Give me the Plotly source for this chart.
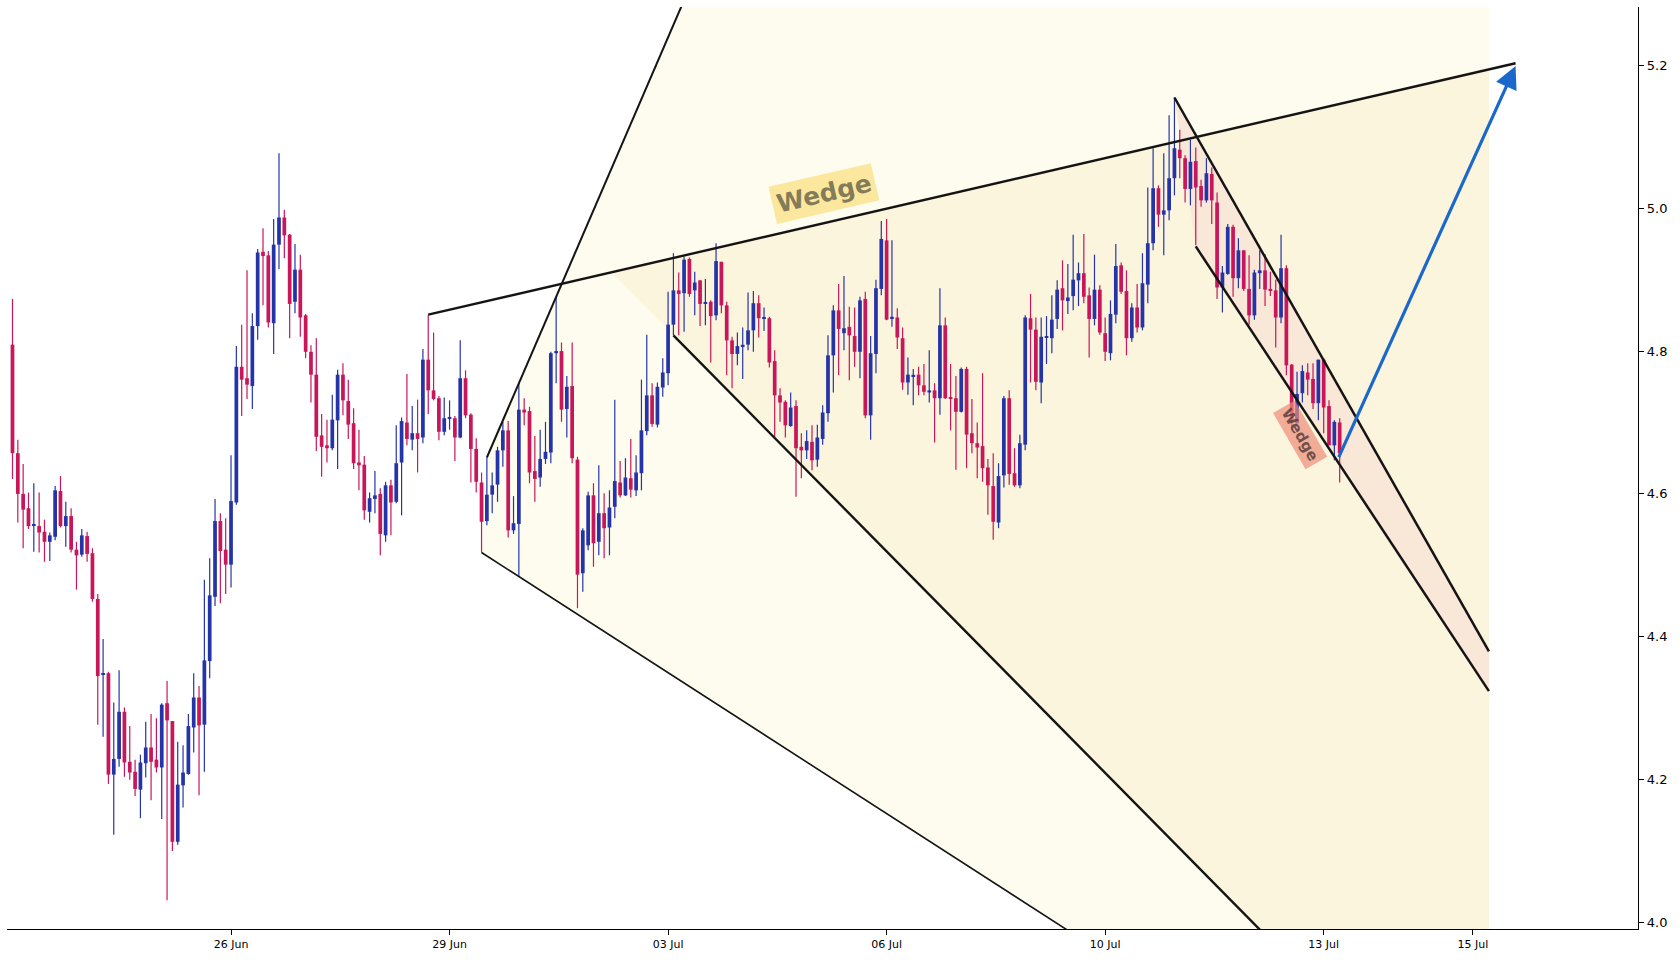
import plotly.graph_objects as go

# ---------------- data ----------------
opens = [4.809, 4.657, 4.600, 4.580, 4.556, 4.555, 4.547, 4.533, 4.540, 4.604,
         4.555, 4.569, 4.522, 4.515, 4.541, 4.517, 4.453, 4.347, 4.349, 4.207,
         4.229, 4.295, 4.225, 4.211, 4.186, 4.223, 4.245, 4.228, 4.217, 4.307,
         4.282, 4.113, 4.192, 4.208, 4.273, 4.315, 4.277, 4.366, 4.456, 4.562,
         4.522, 4.501, 4.588, 4.778, 4.762, 4.751, 4.835, 4.939, 4.934, 4.839,
         4.949, 4.987, 4.963, 4.869, 4.914, 4.850, 4.799, 4.767, 4.682, 4.668,
         4.664, 4.703, 4.767, 4.730, 4.699, 4.644, 4.641, 4.575, 4.593, 4.600,
         4.542, 4.612, 4.589, 4.644, 4.700, 4.676, 4.685, 4.679, 4.788, 4.745,
         4.734, 4.687, 4.706, 4.706, 4.679, 4.762, 4.711, 4.663, 4.616, 4.562,
         4.599, 4.613, 4.661, 4.689, 4.549, 4.558, 4.718, 4.716, 4.632, 4.623,
         4.649, 4.658, 4.797, 4.800, 4.719, 4.751, 4.648, 4.489, 4.528, 4.598,
         4.533, 4.573, 4.553, 4.582, 4.616, 4.598, 4.622, 4.605, 4.629, 4.688,
         4.738, 4.697, 4.749, 4.769, 4.837, 4.885, 4.881, 4.929, 4.885, 4.899,
         4.867, 4.869, 4.850, 4.925, 4.864, 4.815, 4.796, 4.807, 4.809, 4.829,
         4.867, 4.846, 4.846, 4.786, 4.738, 4.729, 4.695, 4.723, 4.666, 4.661,
         4.673, 4.648, 4.677, 4.713, 4.794, 4.857, 4.825, 4.834, 4.821, 4.799,
         4.873, 4.710, 4.796, 4.887, 4.955, 4.845, 4.847, 4.818, 4.756, 4.765,
         4.767, 4.752, 4.742, 4.745, 4.734, 4.836, 4.735, 4.734, 4.715, 4.775,
         4.685, 4.671, 4.667, 4.637, 4.611, 4.560, 4.626, 4.734, 4.629, 4.612,
         4.669, 4.846, 4.830, 4.756, 4.819, 4.818, 4.845, 4.888, 4.870, 4.877,
         4.899, 4.909, 4.878, 4.845, 4.886, 4.825, 4.797, 4.851, 4.920, 4.884,
         4.818, 4.861, 4.833, 4.893, 4.951, 5.028, 4.991, 4.997, 5.042, 5.082,
         5.070, 5.027, 5.066, 5.031, 5.011, 5.048, 5.008, 4.889, 4.908, 4.974,
         4.902, 4.941, 4.887, 4.850, 4.909, 4.913, 4.887, 4.885, 4.847, 4.916,
         4.781, 4.699, 4.741, 4.770, 4.761, 4.727, 4.788, 4.723, 4.668, 4.700]
highs = [4.873, 4.676, 4.642, 4.602, 4.615, 4.602, 4.564, 4.546, 4.611, 4.625,
         4.589, 4.580, 4.533, 4.551, 4.547, 4.524, 4.460, 4.397, 4.351, 4.308,
         4.353, 4.301, 4.275, 4.228, 4.235, 4.281, 4.292, 4.286, 4.307, 4.338,
         4.282, 4.253, 4.248, 4.292, 4.349, 4.331, 4.480, 4.510, 4.593, 4.573,
         4.566, 4.654, 4.807, 4.837, 4.913, 4.853, 4.943, 4.972, 4.940, 4.985,
         5.077, 4.998, 4.964, 4.950, 4.935, 4.852, 4.808, 4.818, 4.712, 4.704,
         4.739, 4.774, 4.783, 4.760, 4.720, 4.690, 4.653, 4.602, 4.632, 4.608,
         4.617, 4.620, 4.696, 4.707, 4.768, 4.723, 4.732, 4.803, 4.851, 4.826,
         4.737, 4.735, 4.731, 4.709, 4.815, 4.773, 4.713, 4.678, 4.630, 4.651,
         4.630, 4.666, 4.701, 4.702, 4.597, 4.755, 4.734, 4.722, 4.681, 4.690,
         4.701, 4.799, 4.876, 4.812, 4.765, 4.812, 4.652, 4.552, 4.603, 4.615,
         4.640, 4.601, 4.605, 4.732, 4.646, 4.650, 4.677, 4.654, 4.760, 4.823,
         4.755, 4.756, 4.790, 4.883, 4.937, 4.910, 4.932, 4.931, 4.911, 4.899,
         4.901, 4.871, 4.951, 4.925, 4.869, 4.820, 4.826, 4.833, 4.882, 4.884,
         4.878, 4.861, 4.848, 4.801, 4.748, 4.731, 4.742, 4.731, 4.685, 4.689,
         4.696, 4.697, 4.724, 4.822, 4.864, 4.894, 4.905, 4.862, 4.861, 4.876,
         4.883, 4.821, 4.900, 4.982, 4.985, 4.955, 4.860, 4.833, 4.791, 4.775,
         4.778, 4.782, 4.801, 4.755, 4.888, 4.847, 4.782, 4.765, 4.777, 4.778,
         4.733, 4.700, 4.769, 4.649, 4.657, 4.643, 4.737, 4.745, 4.664, 4.683,
         4.850, 4.880, 4.847, 4.847, 4.849, 4.878, 4.899, 4.927, 4.922, 4.963,
         4.924, 4.964, 4.889, 4.935, 4.892, 4.847, 4.871, 4.950, 4.924, 4.913,
         4.867, 4.894, 4.937, 5.029, 5.084, 5.032, 5.077, 5.130, 5.155, 5.110,
         5.074, 5.096, 5.085, 5.040, 5.070, 5.057, 5.022, 4.919, 4.978, 4.977,
         4.958, 4.941, 4.934, 4.914, 4.941, 4.936, 4.911, 4.900, 4.963, 4.920,
         4.782, 4.771, 4.780, 4.783, 4.783, 4.788, 4.790, 4.731, 4.703, 4.706]
lows = [4.621, 4.560, 4.524, 4.551, 4.519, 4.518, 4.505, 4.506, 4.535, 4.553,
        4.526, 4.518, 4.466, 4.512, 4.505, 4.449, 4.277, 4.260, 4.194, 4.123,
        4.218, 4.204, 4.200, 4.177, 4.146, 4.203, 4.171, 4.210, 4.145, 4.031,
        4.100, 4.109, 4.161, 4.207, 4.238, 4.178, 4.211, 4.342, 4.443, 4.447,
        4.460, 4.469, 4.585, 4.709, 4.733, 4.719, 4.816, 4.864, 4.833, 4.796,
        4.915, 4.930, 4.818, 4.853, 4.820, 4.790, 4.728, 4.660, 4.624, 4.644,
        4.661, 4.635, 4.710, 4.677, 4.635, 4.605, 4.564, 4.560, 4.573, 4.514,
        4.533, 4.542, 4.587, 4.570, 4.668, 4.661, 4.630, 4.671, 4.712, 4.731,
        4.675, 4.682, 4.690, 4.646, 4.678, 4.706, 4.616, 4.602, 4.518, 4.556,
        4.573, 4.589, 4.638, 4.539, 4.544, 4.484, 4.696, 4.615, 4.589, 4.610,
        4.642, 4.643, 4.755, 4.701, 4.679, 4.643, 4.440, 4.463, 4.521, 4.498,
        4.514, 4.510, 4.514, 4.566, 4.595, 4.597, 4.595, 4.597, 4.605, 4.682,
        4.694, 4.693, 4.736, 4.752, 4.822, 4.822, 4.827, 4.876, 4.850, 4.835,
        4.836, 4.784, 4.843, 4.853, 4.766, 4.748, 4.780, 4.761, 4.801, 4.799,
        4.819, 4.828, 4.777, 4.680, 4.701, 4.679, 4.694, 4.596, 4.622, 4.649,
        4.633, 4.638, 4.669, 4.701, 4.742, 4.766, 4.801, 4.759, 4.778, 4.762,
        4.706, 4.676, 4.769, 4.878, 4.843, 4.834, 4.803, 4.746, 4.739, 4.724,
        4.738, 4.738, 4.728, 4.672, 4.711, 4.733, 4.689, 4.634, 4.714, 4.636,
        4.657, 4.622, 4.617, 4.571, 4.536, 4.552, 4.609, 4.613, 4.610, 4.608,
        4.661, 4.756, 4.745, 4.727, 4.782, 4.797, 4.831, 4.829, 4.852, 4.857,
        4.863, 4.867, 4.791, 4.836, 4.823, 4.786, 4.787, 4.839, 4.880, 4.794,
        4.813, 4.826, 4.829, 4.867, 4.941, 4.974, 4.934, 4.983, 5.018, 5.042,
        5.008, 5.004, 4.948, 5.002, 5.008, 4.978, 4.873, 4.854, 4.907, 4.876,
        4.888, 4.884, 4.837, 4.844, 4.887, 4.863, 4.877, 4.805, 4.839, 4.766,
        4.690, 4.695, 4.728, 4.738, 4.719, 4.703, 4.685, 4.668, 4.647, 4.616]
closes = [4.657, 4.600, 4.578, 4.555, 4.557, 4.546, 4.533, 4.542, 4.605, 4.555,
          4.569, 4.522, 4.514, 4.542, 4.516, 4.453, 4.345, 4.348, 4.207, 4.229,
          4.295, 4.224, 4.210, 4.187, 4.224, 4.245, 4.225, 4.217, 4.305, 4.283,
          4.113, 4.193, 4.210, 4.275, 4.315, 4.276, 4.367, 4.458, 4.562, 4.520,
          4.501, 4.590, 4.778, 4.760, 4.753, 4.835, 4.938, 4.933, 4.840, 4.949,
          4.987, 4.962, 4.866, 4.914, 4.847, 4.799, 4.767, 4.680, 4.666, 4.664,
          4.704, 4.767, 4.731, 4.697, 4.643, 4.640, 4.577, 4.594, 4.598, 4.544,
          4.612, 4.588, 4.643, 4.702, 4.677, 4.685, 4.677, 4.788, 4.745, 4.733,
          4.687, 4.706, 4.707, 4.679, 4.762, 4.710, 4.663, 4.617, 4.561, 4.599,
          4.612, 4.661, 4.689, 4.549, 4.559, 4.718, 4.714, 4.630, 4.621, 4.649,
          4.659, 4.797, 4.800, 4.718, 4.750, 4.650, 4.487, 4.549, 4.598, 4.531,
          4.573, 4.552, 4.581, 4.618, 4.598, 4.623, 4.606, 4.630, 4.689, 4.738,
          4.698, 4.750, 4.770, 4.837, 4.885, 4.880, 4.928, 4.880, 4.896, 4.866,
          4.868, 4.849, 4.926, 4.864, 4.815, 4.796, 4.807, 4.808, 4.829, 4.867,
          4.846, 4.847, 4.784, 4.738, 4.728, 4.696, 4.721, 4.664, 4.661, 4.674,
          4.647, 4.679, 4.714, 4.794, 4.857, 4.831, 4.832, 4.822, 4.799, 4.871,
          4.710, 4.797, 4.888, 4.957, 4.844, 4.848, 4.819, 4.756, 4.767, 4.766,
          4.752, 4.743, 4.745, 4.734, 4.836, 4.734, 4.733, 4.715, 4.775, 4.683,
          4.671, 4.665, 4.636, 4.612, 4.561, 4.625, 4.734, 4.628, 4.612, 4.671,
          4.847, 4.830, 4.757, 4.820, 4.821, 4.844, 4.886, 4.871, 4.875, 4.900,
          4.909, 4.876, 4.845, 4.886, 4.826, 4.799, 4.852, 4.919, 4.883, 4.818,
          4.861, 4.833, 4.895, 4.951, 5.028, 4.991, 4.997, 5.042, 5.084, 5.070,
          5.027, 5.065, 5.029, 5.011, 5.049, 5.011, 4.889, 4.910, 4.974, 4.902,
          4.941, 4.887, 4.850, 4.910, 4.913, 4.886, 4.885, 4.847, 4.916, 4.780,
          4.700, 4.740, 4.772, 4.760, 4.727, 4.788, 4.721, 4.668, 4.701, 4.657]

tick_idx = [41, 82, 123, 164, 205, 246, 274]
tick_text = ["26 Jun", "29 Jun", "03 Jul", "06 Jul", "10 Jul", "13 Jul", "15 Jul"]
price_ticks = [4.0, 4.2, 4.4, 4.6, 4.8, 5.0, 5.2]

# pattern anchors: (bar index, price)
big_upper = [(78, 4.851), (282, 5.203)]
big_left = [(89, 4.651), (145, 5.620)]
big_lower = [(88, 4.518), (277, 3.609)]
big_middle = [(124, 4.822), (277, 3.665)]
small_upper = [(218, 5.155), (277, 4.3795)]
small_lower = [(222, 4.9465), (277, 4.324)]
zone_end = 277
arrow_from = (248.7, 4.6495)
arrow_to = (282, 5.199)
big_label_pos = (152.3, 5.020)
small_label_pos = (241.6, 4.6825)

# ---------------- styles ----------------
UP = "#2535a8"
DOWN = "#c8175a"
BODY_W = 0.7
MIN_BODY = 0.0018
LINE_C = "#141414"
X_RANGE = [-1.03, 304.97]
Y_RANGE = [3.9909, 5.2817]

n = len(opens)
idx = list(range(n))

fig = go.Figure()

for color, is_up in ((UP, True), (DOWN, False)):
    sel = [i for i in idx if (closes[i] >= opens[i]) == is_up]
    fig.add_trace(go.Bar(
        x=sel,
        y=[max(abs(closes[i] - opens[i]), MIN_BODY) for i in sel],
        base=[min(opens[i], closes[i]) for i in sel],
        width=BODY_W,
        marker=dict(color=color, line=dict(width=0)),
        hoverinfo="skip", showlegend=False,
    ))
    wx, wy = [], []
    for i in sel:
        wx += [i, i, None]
        wy += [lows[i], highs[i], None]
    fig.add_trace(go.Scatter(
        x=wx, y=wy, mode="lines",
        line=dict(color=color, width=1.2),
        hoverinfo="skip", showlegend=False,
    ))


def line_at(seg, x):
    (x0, y0), (x1, y1) = seg
    return y0 + (y1 - y0) * (x - x0) / (x1 - x0)


def intersect(a, b):
    (ax0, ay0), (ax1, ay1) = a
    (bx0, by0), (bx1, by1) = b
    sa = (ay1 - ay0) / (ax1 - ax0)
    sb = (by1 - by0) / (bx1 - bx0)
    x = (by0 - ay0 + sa * ax0 - sb * bx0) / (sa - sb)
    return x, ay0 + sa * (x - ax0)


def path(points):
    return "M " + " L ".join(f"{x},{y}" for x, y in points) + " Z"


# zone fills
poly_a = [big_lower[0], big_left[0], big_left[1], (zone_end, big_left[1][1]),
          (zone_end, big_lower[1][1])]
apex = intersect(big_upper, big_middle)
poly_b = [apex, (zone_end, line_at(big_upper, zone_end)), big_middle[1]]
poly_c = [small_upper[0], small_upper[1], small_lower[1], small_lower[0]]

shapes = []
for pts, col in ((poly_a, "#fefcee"), (poly_b, "#fcf5dd"), (poly_c, "#f9e7d8")):
    shapes.append(dict(type="path", path=path(pts), xref="x", yref="y",
                       fillcolor=col, line=dict(width=0), layer="below"))

for seg, w in ((big_upper, 2.4), (big_left, 2.0), (big_lower, 1.6),
               (big_middle, 2.4), (small_upper, 2.5), (small_lower, 2.5)):
    (x0, y0), (x1, y1) = seg
    shapes.append(dict(type="line", xref="x", yref="y", x0=x0, y0=y0, x1=x1, y1=y1,
                       line=dict(color=LINE_C, width=w), layer="above"))

annotations = [
    dict(x=big_label_pos[0], y=big_label_pos[1], xref="x", yref="y",
         text="<b>Wedge</b>", showarrow=False, textangle=-13,
         font=dict(family="DejaVu Sans", size=25, color="rgba(105,98,72,0.82)"),
         bgcolor="rgba(250,224,128,0.72)", borderpad=4),
    dict(x=small_label_pos[0], y=small_label_pos[1], xref="x", yref="y",
         text="<b>Wedge</b>", showarrow=False, textangle=60,
         font=dict(family="DejaVu Sans", size=15, color="rgba(75,55,55,0.78)"),
         bgcolor="rgba(238,140,120,0.7)", borderpad=3),
    dict(x=arrow_to[0], y=arrow_to[1], xref="x", yref="y",
         ax=arrow_from[0], ay=arrow_from[1], axref="x", ayref="y",
         text="", showarrow=True, arrowhead=2, arrowsize=1.4, arrowwidth=3.2,
         arrowcolor="#1a68cc", standoff=0),
]

fig.update_layout(
    width=1680, height=960,
    margin=dict(l=7, r=42, t=7, b=31),
    paper_bgcolor="white", plot_bgcolor="white",
    barmode="overlay", showlegend=False,
    shapes=shapes, annotations=annotations,
    font=dict(family="DejaVu Sans", color="black"),
    xaxis=dict(range=X_RANGE, showgrid=False, zeroline=False,
               showline=True, linecolor="black", linewidth=1.3,
               ticks="outside", ticklen=5, tickwidth=1, tickcolor="black",
               tickvals=tick_idx, ticktext=tick_text,
               tickfont=dict(size=11, family="DejaVu Sans", color="black")),
    yaxis=dict(range=Y_RANGE, side="right", showgrid=False, zeroline=False,
               showline=True, linecolor="black", linewidth=1.3,
               ticks="outside", ticklen=5, tickwidth=1, tickcolor="black",
               tickvals=price_ticks, tickformat=".1f",
               tickfont=dict(size=13, family="DejaVu Sans", color="black")),
)

fig.write_html("out.html")
